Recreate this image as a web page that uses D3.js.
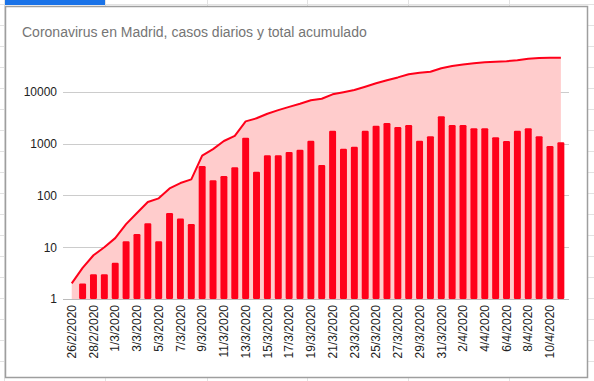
<!DOCTYPE html>
<html>
<head>
<meta charset="utf-8">
<script src="https://cdn.jsdelivr.net/npm/d3@7"></script>
<style>
  body { margin: 0; background: #fff; }
  svg { display: block; font-family: Arial, "Liberation Sans", sans-serif; }
</style>
</head>
<body>
<svg id="chart" width="594" height="381"></svg>
<script>
var fechas = ["26/2/2020","27/2/2020","28/2/2020","29/2/2020","1/3/2020","2/3/2020","3/3/2020","4/3/2020",
  "5/3/2020","6/3/2020","7/3/2020","8/3/2020","9/3/2020","10/3/2020","11/3/2020","12/3/2020",
  "13/3/2020","14/3/2020","15/3/2020","16/3/2020","17/3/2020","18/3/2020","19/3/2020","20/3/2020",
  "21/3/2020","22/3/2020","23/3/2020","24/3/2020","25/3/2020","26/3/2020","27/3/2020","28/3/2020",
  "29/3/2020","30/3/2020","31/3/2020","1/4/2020","2/4/2020","3/4/2020","4/4/2020","5/4/2020",
  "6/4/2020","7/4/2020","8/4/2020","9/4/2020","10/4/2020","11/4/2020"];

var casosDiarios = [1, 2, 3, 3, 5, 13, 18, 29, 13, 46, 36, 28, 370, 197, 238, 352,
  1300, 287, 600, 600, 695, 763, 1137, 390, 1780, 800, 870, 1780, 2220, 2510, 2110, 2290,
  1137, 1400, 3410, 2290, 2290, 2000, 2000, 1340, 1130, 1780, 2000, 1400, 900, 1070];

var totalAcumulado = [2, 4, 7, 10, 15, 28, 46, 75, 88, 137, 174, 205, 590, 785, 1130, 1420,
  2700, 3100, 3800, 4450, 5150, 5900, 6900, 7400, 9000, 9900, 10900, 12600, 14700, 16900, 19100, 22000,
  23500, 24600, 28800, 31600, 33800, 35800, 37600, 38400, 39300, 41000, 43900, 45200, 45800, 46000];

var yTicks = [1, 10, 100, 1000, 10000];

var width = 594, height = 381;
var svg = d3.select("#chart");

// spreadsheet grid behind the chart
var grid = svg.append("g");
d3.range(4, height, 21).forEach(function(y) {
  grid.append("line").attr("x1", 0).attr("x2", width).attr("y1", y + 0.5).attr("y2", y + 0.5)
    .attr("stroke", "#e2e2e2");
});
[4, 105, 207, 307, 408, 509].forEach(function(x) {
  grid.append("line").attr("x1", x + 0.5).attr("x2", x + 0.5).attr("y1", 0).attr("y2", height)
    .attr("stroke", "#e2e2e2");
});
grid.append("rect").attr("x", 5).attr("y", 0).attr("width", 100).attr("height", 5).attr("fill", "#1a73e8");

// chart card
svg.append("rect")
  .attr("x", 5.5).attr("y", 6.5).attr("width", 582).attr("height", 371)
  .attr("fill", "#fff").attr("stroke", "#9e9e9e").attr("stroke-width", 1.5);

svg.append("text")
  .attr("x", 22).attr("y", 37)
  .attr("fill", "#757575")
  .style("font-size", "14px")
  .text("Coronavirus en Madrid, casos diarios y total acumulado");

var x = d3.scaleBand()
  .domain(fechas)
  .range([66.3, 566.3])
  .paddingInner(0.36)
  .paddingOuter(0.18);

var y = d3.scaleLog()
  .domain([1, 100000])
  .range([299, 40.2]);

var cx = function(d) { return x(d) + x.bandwidth() / 2; };

// gridlines
svg.append("g").selectAll("line")
  .data(yTicks.slice(1))
  .enter().append("line")
    .attr("x1", 63).attr("x2", 569)
    .attr("y1", function(d) { return Math.round(y(d)) + 0.5; })
    .attr("y2", function(d) { return Math.round(y(d)) + 0.5; })
    .attr("stroke", "#cccccc");

// cumulative area + line
var area = d3.area()
  .x(function(d, i) { return cx(fechas[i]); })
  .y0(y(1))
  .y1(function(d) { return y(d); });

var line = d3.line()
  .x(function(d, i) { return cx(fechas[i]); })
  .y(function(d) { return y(d); });

svg.append("path")
  .datum(totalAcumulado)
  .attr("d", area)
  .attr("fill", "#ffcccc");

// daily bars
svg.append("g").selectAll("rect")
  .data(casosDiarios)
  .enter().append("rect")
    .attr("x", function(d, i) { return x(fechas[i]); })
    .attr("y", function(d) { return y(d); })
    .attr("width", x.bandwidth())
    .attr("height", function(d) { return y(1) - y(d); })
    .attr("rx", 1.2)
    .attr("fill", "#ff001a");

svg.append("path")
  .datum(totalAcumulado)
  .attr("d", line)
  .attr("fill", "none")
  .attr("stroke", "#ff001a")
  .attr("stroke-width", 2)
  .attr("stroke-linejoin", "round");

// baseline
svg.append("line")
  .attr("x1", 63).attr("x2", 569)
  .attr("y1", y(1) + 0.5).attr("y2", y(1) + 0.5)
  .attr("stroke", "#bbbbbb");

// y axis labels
var yAxis = d3.axisLeft(y).tickValues(yTicks).tickFormat(d3.format("d")).tickSize(0).tickPadding(0);
var gy = svg.append("g").attr("transform", "translate(57,0)").call(yAxis);
gy.select(".domain").remove();
gy.selectAll("text").style("font-size", "12px").attr("fill", "#222").style("font-family", "Arial, 'Liberation Sans', sans-serif");

// x axis labels, every other date, rotated
var xAxis = d3.axisBottom(x)
  .tickValues(fechas.filter(function(d, i) { return i % 2 === 0; }))
  .tickSize(0).tickPadding(0);
var gx = svg.append("g").attr("transform", "translate(0,305)").call(xAxis);
gx.select(".domain").remove();
gx.selectAll("text")
  .attr("transform", "rotate(-90)")
  .attr("text-anchor", "end")
  .attr("x", 0).attr("y", 0).attr("dy", "0.35em")
  .attr("fill", "#222")
  .style("font-size", "12px")
  .style("font-family", "Arial, 'Liberation Sans', sans-serif");
</script>
</body>
</html>
